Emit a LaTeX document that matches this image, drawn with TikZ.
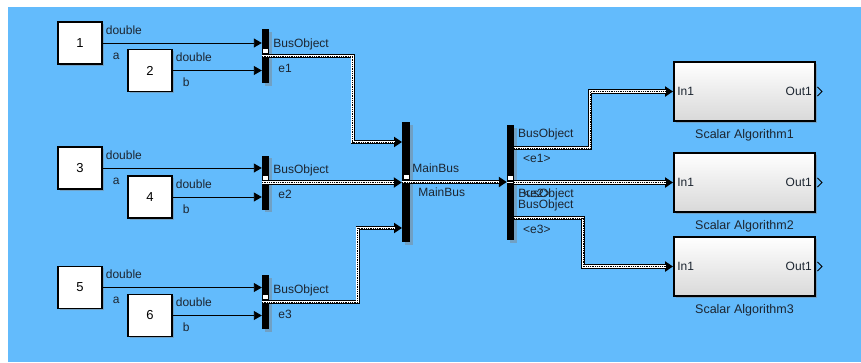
\documentclass[tikz,border=0pt]{standalone}
\usepackage{fontspec}
\setmainfont{Liberation Sans}
\usetikzlibrary{positioning,arrows.meta,shadows}
\definecolor{cCanvas}{HTML}{63BBFC}
\definecolor{cText}{HTML}{1C2530}
\tikzset{
  srcBlk/.style={draw=black, line width=1.3pt, fill=white, minimum width=44pt,
                 minimum height=42pt, inner sep=0pt, font=\fontsize{13}{15}\selectfont,
                 drop shadow={shadow xshift=1.5pt, shadow yshift=-1.5pt, opacity=.45}},
  busBar/.style={fill=black, minimum width=7pt, inner sep=0pt,
                 drop shadow={shadow xshift=2.5pt, shadow yshift=-2.5pt, opacity=.45}},
  algBlk/.style={draw=black, line width=1.9pt, top color=white, bottom color=black!15,
                 minimum width=141pt, minimum height=59pt, inner sep=0pt,
                 drop shadow={shadow xshift=2pt, shadow yshift=-2pt, opacity=.45}},
  port/.style={fill=white, minimum width=5pt, minimum height=4pt, inner sep=0pt},
  sig/.style={line width=0.9pt, -{Triangle[length=8pt,width=9pt]}},
  bus/.style={line width=4.6pt, line join=miter, -{Triangle[length=8pt,width=10pt]},
              postaction={draw=white, line width=2.8pt, shorten >=7.5pt, -},
              postaction={draw=black, line width=0.9pt, dash pattern=on 0.9pt off 0.9pt,
                          shorten >=7.5pt, -}},
  lbl/.style={font=\fontsize{12}{14}\selectfont, text=cText, inner sep=0pt},
}

\begin{document}
\begin{tikzpicture}[x=1pt, y=-1pt]
\useasboundingbox (0,0) rectangle (861,362);
\fill[cCanvas] (8,7) rectangle (861,362);

% ===== sources and bus creators =====
\foreach \g/\ya/\yb/\yc [evaluate=\g as \na using int(2*\g-1),
                         evaluate=\g as \nb using int(2*\g)]
    in {1/43/70.5/56, 2/168/197/182.5, 3/287.5/315.5/302} {
  \node[srcBlk] (b\na) at (80,\ya) {\na};
  \node[srcBlk] (b\nb) at (150,\yb) {\nb};
  \node[busBar, minimum height=54pt] (bc\g) at (265.5,\yc) {};
  \draw[sig] (b\na.east) -- (b\na.east -| bc\g.west);
  \draw[sig] (b\nb.east) -- (b\nb.east -| bc\g.west);
  \node[lbl, anchor=base west] (ta\g) at ([xshift=3pt,yshift=9pt]b\na.east) {double};
  \node[lbl, anchor=base west] (tb\g) at ([xshift=3pt,yshift=9pt]b\nb.east) {double};
  \node[lbl, anchor=base west] (na\g) at ([xshift=10pt,yshift=-16pt]b\na.east) {a};
  \node[lbl, anchor=base west] (nb\g) at ([xshift=10pt,yshift=-16pt]b\nb.east) {b};
  \node[lbl, anchor=base west] (bo\g) at ([xshift=4pt,yshift=9pt]bc\g.east) {BusObject};
  \node[lbl, anchor=base west] (el\g) at ([xshift=9pt,yshift=-16pt]bc\g.east) {e\g};
}

% ===== main bus and selector =====
\node[busBar, minimum width=8pt, minimum height=120pt] (mb) at (406,182) {};
\node[busBar, minimum height=115pt] (bs) at (510.5,182.5) {};
\coordinate (mbin1) at (402,142);
\coordinate (mbin3) at (402,228);
\coordinate (bso1) at (514,148);
\coordinate (bso3) at (514,218);

% ===== algorithms =====
\foreach \k/\y in {1/91.5, 2/182.5, 3/266.5} {
  \node[algBlk] (sa\k) at (744.5,\y) {};
  \node[lbl, anchor=west] (in\k) at ([xshift=4pt]sa\k.west) {In1};
  \node[lbl, anchor=east] (out\k) at ([xshift=-4pt]sa\k.east) {Out1};
  \node[lbl, font=\fontsize{12.5}{14}\selectfont, below=7pt of sa\k] (sal\k)
    {Scalar Algorithm\k};
  \draw[line width=1pt] ([xshift=1.5pt,yshift=4.5pt]sa\k.east)
    -- ([xshift=6pt]sa\k.east) -- ([xshift=1.5pt,yshift=-4.5pt]sa\k.east);
}

% ===== bus lines =====
\draw[bus] (bc1.west) -- ++(91,0) |- (mbin1);
\draw[bus] (bc2.west) -- (bc2.west -| mb.west);
\draw[bus] (bc3.west) -- ++(96,0) |- (mbin3);
\draw[bus] (mb.west) -- (mb.west -| bs.west);
\draw[bus] (bso1) -- ++(76,0) |- (sa1.west);
\draw[bus] (bs.east) -- (bs.east -| sa2.west);
\draw[bus] (bso3) -- ++(69,0) |- (sa3.west);
\draw[white, line width=1.4pt] (bs.west) -- ([xshift=-1.5pt]bs.east);

% port marks
\foreach \b in {bc1, bc2, bc3, mb}
  \node[port, above=2.5pt of \b.center] (p\b) {};
\node[port, above right=2.5pt and 0.5pt of bs.west] (pbs) {};

% ===== bus labels =====
\node[lbl, anchor=base west] (mbt) at ([xshift=2pt,yshift=10pt]mb.east) {MainBus};
\node[lbl, anchor=base west] (mbb) at ([xshift=8pt,yshift=-14pt]mb.east) {MainBus};
\node[lbl, anchor=base west] (so1) at ([xshift=4pt,yshift=11pt]bso1) {BusObject};
\node[lbl, anchor=base west] (se1) at ([xshift=9pt,yshift=-14pt]bso1) {<e1>};
\node[lbl, anchor=base west] (so2) at ([xshift=4pt,yshift=-15pt]bs.east) {BusObject};
\node[lbl, anchor=base west] (se2) at ([xshift=9pt,yshift=-15pt]bs.east) {<e2>};
\node[lbl, anchor=base west] (so3) at ([xshift=4pt,yshift=10pt]bso3) {BusObject};
\node[lbl, anchor=base west] (se3) at ([xshift=9pt,yshift=-15pt]bso3) {<e3>};

\end{tikzpicture}
\end{document}
